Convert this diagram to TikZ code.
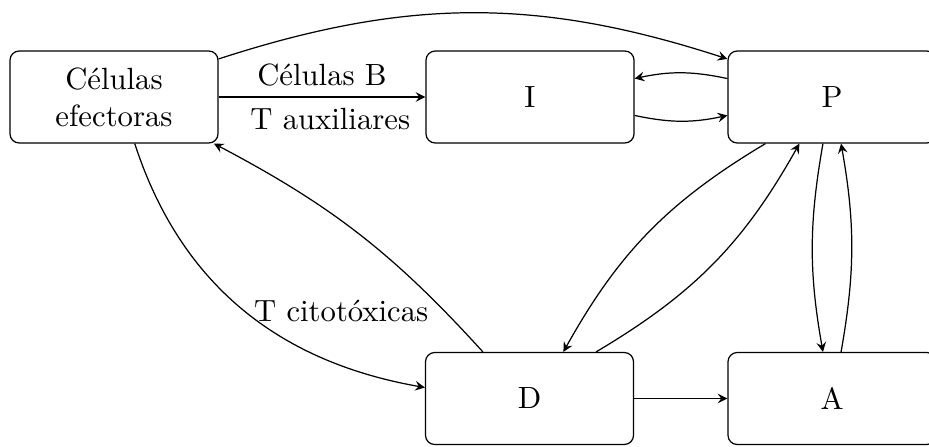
\documentclass[tikz,border=0pt]{standalone}
\usetikzlibrary{arrows}
\begin{document}
\begin{tikzpicture}[x=0.3257pt,y=-0.3257pt,
  box/.style={draw,rounded corners=3pt,minimum width=67.75pt,minimum height=29.96pt,inner sep=0pt,align=center},
  conn/.style={-stealth}]
\clip (0,0) rectangle (929,446);
\node[box] (E) at (114,97) {Células\\efectoras};
\node[box] (I) at (530,97) {I};
\node[box] (P) at (832,97) {P};
\node[box] (D) at (529.5,398.5) {D};
\node[box] (A) at (832,398.5) {A};
% top arc
\draw[conn] (E.20) to[bend left=18] (P.160);
% E -> I
\draw[conn] (E.east) -- node[above] (lb) {Células B} node[pos=0.54,below] (lt) {T auxiliares} (I.west);
% I <-> P
\draw[conn] (P.170) to[bend right=12] (I.10);
\draw[conn] (I.-10) to[bend right=12] (P.190);
% P <-> D
\draw[conn] (P.215) to[bend right=15] (D.54);
\draw[conn] (D.35) to[bend right=15] (P.235);
% P <-> A
\draw[conn] (P.259) to[bend right=10] (A.101);
\draw[conn] (A.79) to[bend right=10] (P.281);
% D -> A
\draw[conn] (D.east) -- (A.west);
% E -> D
\draw[conn] (E.294) to[out=-72,in=170] node[pos=0.62,anchor=south west,inner sep=1pt,xshift=-9.4pt,yshift=3.3pt] (lc) {T citotóxicas} (D.174);
% D -> E
\draw[conn] (D.135) to[bend right=10] (E.335.5);
\end{tikzpicture}
\end{document}
